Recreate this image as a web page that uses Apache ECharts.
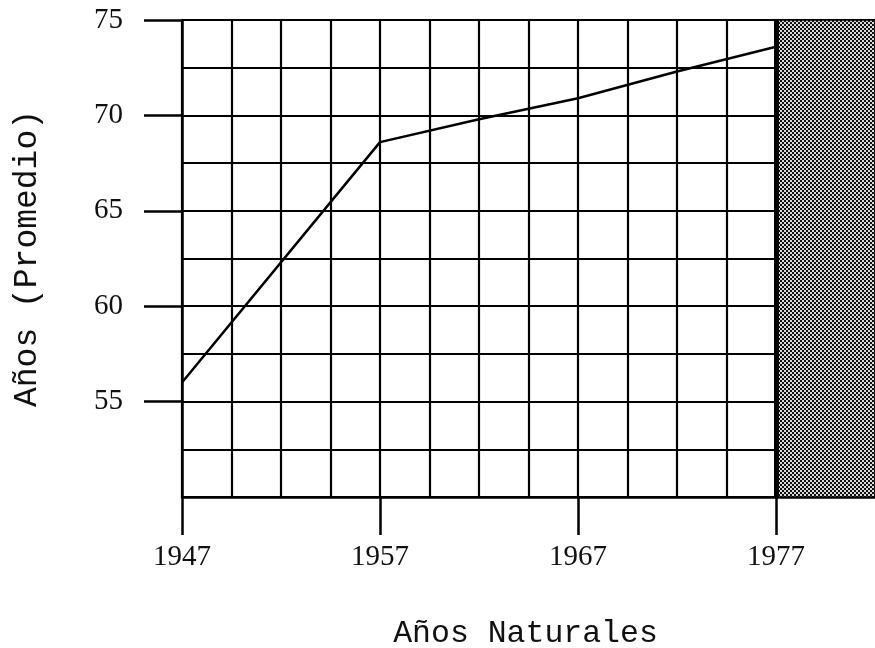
<!DOCTYPE html>
<html>
<head>
<meta charset="utf-8">
<script src="https://cdn.jsdelivr.net/npm/echarts@6/dist/echarts.min.js"></script>
<style>
  html, body { margin: 0; padding: 0; background: #fff; }
  #chart { width: 875px; height: 648px; }
</style>
</head>
<body>
<div id="chart"></div>
<script>
  // datos
  const years = [1947, 1957, 1962, 1967, 1972, 1977]
  const lifeExp = [56.0, 68.6, 69.8, 70.9, 72.3, 73.6]
  const xTickLabels = [1947, 1957, 1967, 1977]
  const yTickLabels = [55, 60, 65, 70, 75]
  const shadedYears = [1977, 1982]

  // trama de puntos para la zona sombreada
  function makePattern () {
    const c = document.createElement('canvas')
    c.width = 4
    c.height = 4
    const ctx = c.getContext('2d')
    ctx.fillStyle = '#d8d8d8'
    ctx.fillRect(0, 0, 4, 4)
    ctx.fillStyle = '#111'
    ctx.fillRect(0, 0, 2, 2)
    ctx.fillRect(2, 2, 2, 2)
    return c
  }

  const chart = echarts.init(document.getElementById('chart'))
  const serifFont = 'Liberation Serif'
  const monoFont = 'Liberation Mono'
  const gridLine = { show: true, lineStyle: { color: '#000', width: 2.2 } }
  const axisPen = { color: '#000', width: 2.5 }

  chart.setOption({
    animation: false,
    backgroundColor: '#fff',
    grid: { left: 182, right: 0, top: 20, bottom: 151, containLabel: false, outerBoundsMode: 'none' },
    xAxis: [{
      // cuadricula cada 2.5 anios
      type: 'value',
      min: 1947,
      max: shadedYears[1],
      interval: 2.5,
      axisLine: { show: false },
      axisTick: { show: false },
      axisLabel: { show: false },
      splitLine: gridLine
    }, {
      type: 'value',
      position: 'bottom',
      min: 1947,
      max: shadedYears[1],
      name: 'Años Naturales',
      nameLocation: 'middle',
      nameGap: 121,
      nameTextStyle: { fontFamily: monoFont, fontSize: 31.5, color: '#111', padding: [0, 6, 0, 0] },
      axisLine: { show: true, lineStyle: axisPen },
      axisTick: { show: true, length: 38, customValues: xTickLabels, lineStyle: axisPen },
      axisLabel: { customValues: xTickLabels, margin: 46, fontFamily: serifFont, fontSize: 29, color: '#111', formatter: v => String(v) },
      splitLine: { show: false }
    }],
    yAxis: [{
      type: 'value',
      min: 50,
      max: 75,
      interval: 2.5,
      axisLine: { show: false },
      axisTick: { show: false },
      axisLabel: { show: false },
      splitLine: gridLine
    }, {
      type: 'value',
      position: 'left',
      min: 50,
      max: 75,
      name: 'Años (Promedio)',
      nameLocation: 'middle',
      nameRotate: 90,
      nameGap: 138,
      nameTextStyle: { fontFamily: monoFont, fontSize: 33, color: '#111' },
      axisLine: { show: true, lineStyle: axisPen },
      axisTick: { show: true, length: 38, customValues: yTickLabels, lineStyle: axisPen },
      axisLabel: { customValues: yTickLabels, margin: 59, fontFamily: serifFont, fontSize: 29, color: '#111' },
      splitLine: { show: false }
    }],
    series: [{
      type: 'line',
      xAxisIndex: 0,
      yAxisIndex: 0,
      data: years.map((y, i) => [y, lifeExp[i]]),
      showSymbol: false,
      lineStyle: { color: '#000', width: 2.5 },
      z: 5,
      markArea: {
        silent: true,
        itemStyle: {
          color: { image: makePattern(), repeat: 'repeat' },
          borderColor: '#000',
          borderWidth: 1.5,
          opacity: 1
        },
        data: [[{ xAxis: shadedYears[0] }, { xAxis: shadedYears[1] }]]
      },
      markLine: {
        silent: true,
        symbol: 'none',
        label: { show: false },
        lineStyle: { color: '#000', width: 5, type: 'solid' },
        data: [{ xAxis: shadedYears[0] }]
      }
    }]
  })
</script>
</body>
</html>
